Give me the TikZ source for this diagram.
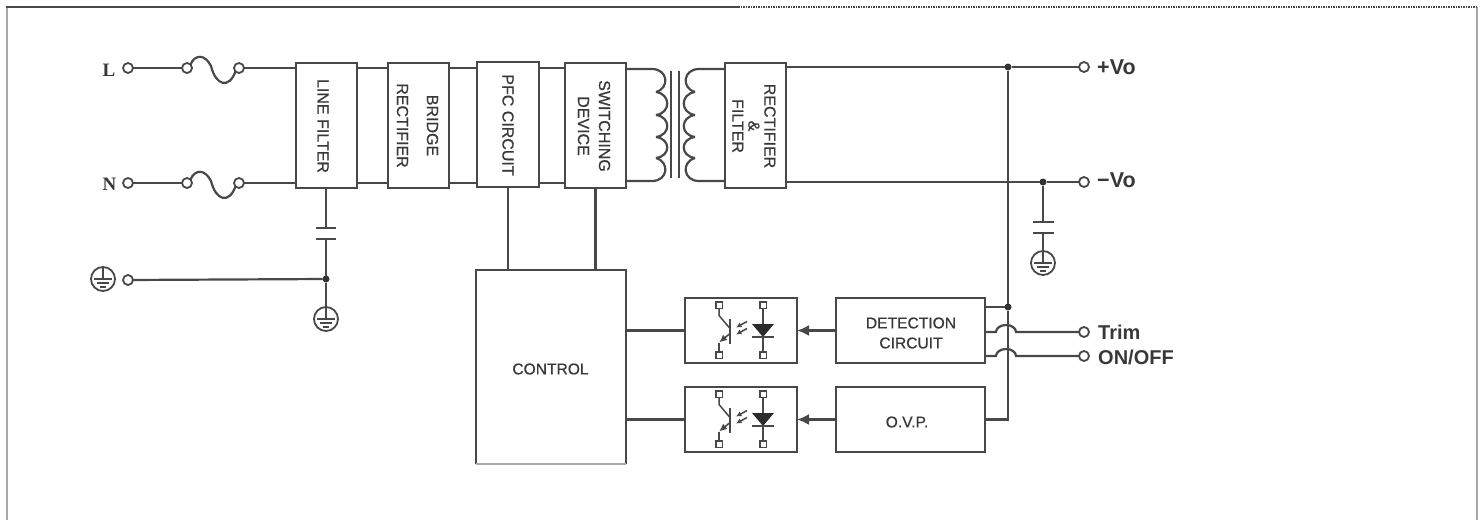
\documentclass[tikz,border=0pt]{standalone}
\usepackage{fontspec}
\setmainfont{Liberation Sans}
\newfontfamily\serifbold{Liberation Serif}
\newfontfamily\blockfont[FakeBold=0.6]{Liberation Sans}
\usetikzlibrary{arrows.meta}
\definecolor{wirecol}{HTML}{484848}
\definecolor{textcol}{HTML}{383838}
\definecolor{edgecol}{HTML}{A8A8A8}
\tikzset{
  wire/.style={draw=wirecol,line width=2.2pt},
  thinwire/.style={draw=wirecol,line width=1.5pt},
  blockbox/.style={draw=wirecol,line width=2.4pt,inner sep=0pt,outer sep=0pt},
  vtext/.style={rotate=-90,align=center,inner sep=0pt,text=textcol,font=\fontsize{16}{18}\blockfont\selectfont},
  htext/.style={align=center,inner sep=0pt,text=textcol,font=\fontsize{15.6}{20}\blockfont\selectfont},
  termlabel/.style={anchor=west,inner sep=0pt,text=textcol,font=\fontsize{20}{22}\selectfont\bfseries},
  volabel/.style={termlabel,font=\fontsize{21.5}{22}\selectfont\bfseries},
  linelabel/.style={inner sep=0pt,text=textcol,font=\fontsize{19}{22}\serifbold\selectfont\bfseries},
  terminal/.style={circle,draw=wirecol,line width=1.8pt,fill=white,minimum size=10pt,inner sep=0pt,outer sep=0pt},
  junction/.style={circle,fill=black!80,minimum size=7pt,inner sep=0pt,outer sep=0pt},
  pad/.style={rectangle,draw=wirecol,line width=1.5pt,fill=white,minimum size=6.5pt,inner sep=0pt,outer sep=0pt},
  earthring/.style={circle,draw=wirecol,line width=1.8pt,minimum size=24pt,inner sep=0pt,outer sep=0pt},
  capplate/.style={draw=wirecol,line width=2.2pt},
  feedarrow/.style={wire,-{Latex[length=12pt,width=11pt]}},
}
\begin{document}
\begin{tikzpicture}[x=1pt,y=-1pt]
\useasboundingbox (0,0) rectangle (1483,520);

% frame
\draw[edgecol,line width=2.2pt] (7,520)--(7,7);
\draw[edgecol,line width=2.2pt] (1477,7)--(1477,520);
\draw[wirecol,line width=1.5pt] (6,7)--(738,7);
\draw[wirecol,line width=1.5pt,densely dotted] (738,7)--(1478,7);

% blocks
\node[blockbox,minimum width=61pt,minimum height=125pt] (linefilter) at (326.5,125.5) {};
\node[blockbox,minimum width=61pt,minimum height=125pt] (bridge) at (418.5,125.5) {};
\node[blockbox,minimum width=62pt,minimum height=125pt] (pfc) at (508,124.5) {};
\node[blockbox,minimum width=61pt,minimum height=125pt] (switching) at (595.5,125.5) {};
\node[blockbox,minimum width=61pt,minimum height=125pt] (rectfilter) at (755.5,125.5) {};
\node[minimum width=150pt,minimum height=194pt,inner sep=0pt,outer sep=0pt] (control) at (551,367) {};
\node[blockbox,minimum width=112pt,minimum height=65pt] (optotop) at (741,330.5) {};
\node[blockbox,minimum width=112pt,minimum height=65pt] (optobot) at (741,419.5) {};
\node[blockbox,minimum width=149pt,minimum height=65pt] (detection) at (910.5,330.5) {};
\node[blockbox,minimum width=149pt,minimum height=65pt] (ovp) at (910.5,419.5) {};
\draw[wire] (control.south west)--(control.north west)--(control.north east)--(control.south east);
\draw[edgecol,line width=1.5pt] (control.south west)--(control.south east);

% block texts
\node[vtext] (linefiltertext) at (323,126) {LINE FILTER};
\node[vtext] (bridgetext) at (417.5,125.5) {BRIDGE\\[12pt]RECTIFIER};
\node[vtext] (pfctext) at (508,125) {PFC CIRCUIT};
\node[vtext] (switchingtext) at (594,126) {SWITCHING\\[3pt]DEVICE};
\node[vtext] (rectfiltertext) at (754,126) {RECTIFIER\\[-2pt]\&\\[-2pt]FILTER};
\node[htext] (controltext) at (550.5,369) {CONTROL};
\node[htext] (detectiontext) at (911,333) {DETECTION\\CIRCUIT};
\node[htext] (ovptext) at (907,422) {O.V.P.};

% input side
\node[linelabel] (labelL) at (109,70) {L};
\node[linelabel] (labelN) at (109.5,184) {N};
\node[earthring] (earthin) at (103,279) {};
\node[terminal] (termL) at (128,68) {};
\node[terminal] (termN) at (128,183) {};
\node[terminal] (termE) at (128,280) {};
\foreach \rowname/\rowy in {L/68,N/183}{
  \node[terminal] (fusea\rowname) at (187,\rowy) {};
  \node[terminal] (fuseb\rowname) at (239,\rowy) {};
  \draw[wire] (term\rowname)--(fusea\rowname);
  \draw[wire] (fusea\rowname.north east) .. controls (195,\rowy-14) and (205,\rowy-14) .. (211,\rowy-2)
    .. controls (216,\rowy+18) and (229,\rowy+21) .. (fuseb\rowname.south west);
  \draw[wire] (fuseb\rowname)--(fuseb\rowname -| linefilter.west);
  \foreach \from/\to in {linefilter/bridge,bridge/pfc,pfc/switching}{
    \draw[wire] (\from.east |- term\rowname)--(\to.west |- term\rowname);
  }
}

% capacitor to earth
\coordinate (capa) at (326,228);
\coordinate (capb) at (326,239);
\node[junction] (juncearth) at (326,279) {};
\node[earthring] (earthmid) at (326,319) {};
\draw[wire] (capa |- linefilter.south)--(capa);
\draw[capplate] (316,228)--(336,228);
\draw[capplate] (316,239)--(336,239);
\draw[wire] (capb)--(juncearth);
\draw[wire] (juncearth)--(earthmid);
\draw[wire] (termE)--(juncearth);

% transformer
\coordinate (primtop) at (652,69);
\coordinate (primbot) at (652,181);
\coordinate (sectop) at (699,69);
\coordinate (secbot) at (699,181);
\draw[wire] (switching.east |- primtop)--(primtop) .. controls (668,69) and (670,88) .. (656,92);
\draw[wire] (656,158) .. controls (670,162) and (668,181) .. (primbot)--(switching.east |- primbot);
\draw[wire] (rectfilter.west |- sectop)--(sectop) .. controls (683,69) and (681,88) .. (695,92);
\draw[wire] (695,158) .. controls (681,162) and (683,181) .. (secbot)--(rectfilter.west |- secbot);
\foreach \ya/\yb in {92/115,115/137,137/158}{
  \draw[wire] (656,\ya) .. controls (671,\ya+2) and (671,\yb-2) .. (656,\yb);
  \draw[wire] (695,\ya) .. controls (680,\ya+2) and (680,\yb-2) .. (695,\yb);
}
\draw[wire] (671,71)--(671,178); %core
\draw[wire] (679,71)--(679,178);

% output side
\node[terminal] (termplus) at (1084,67) {};
\node[terminal] (termminus) at (1084,182) {};
\node[terminal] (termtrim) at (1084,332) {};
\node[terminal] (termonoff) at (1084,356) {};
\node[volabel] (labelplus) at (1097,67) {+Vo};
\node[volabel] (labelminus) at (1097,180) {−Vo};
\node[termlabel] (labeltrim) at (1098,332) {Trim};
\node[termlabel] (labelonoff) at (1098,357) {ON/OFF};
\node[junction] (junctop) at (1008,67) {};
\node[junction] (juncminus) at (1043,182) {};
\node[junction] (juncsense) at (1008,307) {};
\node[earthring] (earthout) at (1043,263) {};
\draw[wire] (rectfilter.east |- junctop)--(junctop)--(termplus);
\draw[wire] (rectfilter.east |- juncminus)--(juncminus)--(termminus);
\draw[wire] (junctop)--(juncsense);
\draw[wire] (juncsense)--(juncsense |- ovp)--(ovp.east);
\draw[wire] (detection.east |- juncsense)--(juncsense);
\draw[wire] (juncminus)--(1043,222);
\draw[capplate] (1033,222)--(1054,222);
\draw[capplate] (1033,233)--(1054,233);
\draw[wire] (1043,233)--(earthout.north);
\foreach \n in {termtrim,termonoff}{
  \draw[wire] (detection.east |- \n)--++(11,0) arc[start angle=180,end angle=0,x radius=10pt,y radius=7pt]--(\n);
}

% earth bars
\foreach \n in {earthin,earthmid,earthout}{
  \draw[thinwire] (\n.north)--(\n.center) ++(-9,0)--++(18,0) ++(-15,4)--++(12,0) ++(-9,4)--++(6,0);
}

% links to control
\draw[wire] (pfc.south)--(pfc.south |- control.north);
\draw[wire] (switching.south)--(switching.south |- control.north);
\draw[wire] (control.east |- optotop)--(optotop.west);
\draw[wire] (control.east |- optobot)--(optobot.west);
\draw[feedarrow] (detection.west)--(optotop.east);
\draw[feedarrow] (ovp.west)--(optobot.east);

% couplers
\foreach \n in {optotop,optobot}{
\begin{scope}[shift={(\n)}]
  \node[pad] (\n coll) at (-22,-25.5) {};
  \node[pad] (\n emit) at (-22,24.5) {};
  \node[pad] (\n anode) at (22,-25.5) {};
  \node[pad] (\n cath) at (22,24.5) {};
  \draw[thinwire] (\n anode)--(\n cath);
  \fill[wirecol!60!black] (11,-6.5)--(33,-6.5)--(22,6.5)--cycle;
  \draw[thinwire] (11,6.5)--(33,6.5);
  \draw[wire] (-11,-12)--(-11,13);
  \draw[thinwire] (\n coll)--(-22,-15)--(-11,-2);
  \draw[thinwire] (\n emit)--(-22,12);
  \draw[thinwire,-{Latex[length=8pt,width=7pt]}] (-11,3)--(-22,12);
  \draw[thinwire,-{Latex[length=5.5pt,width=5.5pt]}] (6,-9)--(-5,-3);
  \draw[thinwire,-{Latex[length=5.5pt,width=5.5pt]}] (6,-2)--(-5,4);
\end{scope}
}

\end{tikzpicture}
\end{document}
